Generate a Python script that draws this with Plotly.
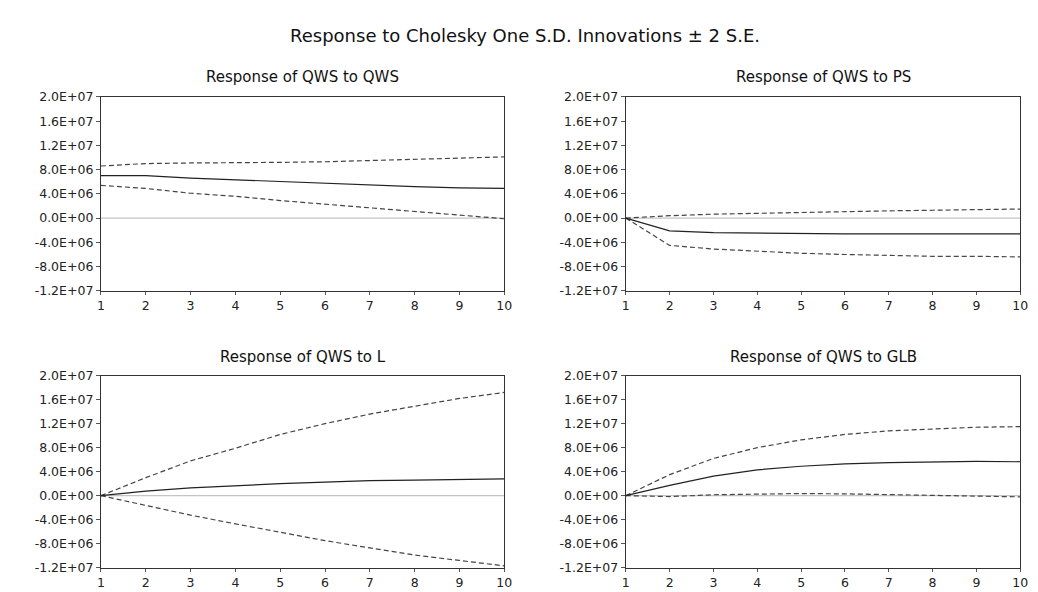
import plotly.graph_objects as go

periods = [1, 2, 3, 4, 5, 6, 7, 8, 9, 10]

qws_qws_resp = [7.0e6, 7.0e6, 6.6e6, 6.3e6, 6.0e6, 5.7e6, 5.5e6, 5.2e6, 5.0e6, 4.9e6]
qws_qws_upper = [8.6e6, 9.0e6, 9.1e6, 9.1e6, 9.2e6, 9.3e6, 9.5e6, 9.7e6, 9.9e6, 10.1e6]
qws_qws_lower = [5.4e6, 4.9e6, 4.1e6, 3.6e6, 2.9e6, 2.3e6, 1.6e6, 1.0e6, 0.5e6, -0.1e6]

qws_ps_resp = [0.0, -2.1e6, -2.4e6, -2.5e6, -2.5e6, -2.6e6, -2.6e6, -2.6e6, -2.6e6, -2.6e6]
qws_ps_upper = [0.0, 0.4e6, 0.65e6, 0.8e6, 1.0e6, 1.1e6, 1.2e6, 1.3e6, 1.4e6, 1.5e6]
qws_ps_lower = [0.0, -4.5e6, -5.1e6, -5.5e6, -5.8e6, -6.0e6, -6.2e6, -6.3e6, -6.3e6, -6.4e6]

qws_l_resp = [0.0, 0.75e6, 1.3e6, 1.7e6, 2.0e6, 2.25e6, 2.5e6, 2.6e6, 2.7e6, 2.8e6]
qws_l_upper = [0.0, 3.0e6, 5.8e6, 7.9e6, 10.2e6, 12.0e6, 13.6e6, 14.9e6, 16.2e6, 17.2e6]
qws_l_lower = [0.0, -1.65e6, -3.25e6, -4.7e6, -6.1e6, -7.5e6, -8.7e6, -9.9e6, -10.8e6, -11.7e6]

qws_glb_resp = [0.0, 1.7e6, 3.25e6, 4.3e6, 4.9e6, 5.3e6, 5.5e6, 5.65e6, 5.7e6, 5.65e6]
qws_glb_upper = [0.0, 3.5e6, 6.2e6, 8.0e6, 9.3e6, 10.2e6, 10.8e6, 11.1e6, 11.4e6, 11.5e6]
qws_glb_lower = [0.0, -0.15e6, 0.15e6, 0.3e6, 0.35e6, 0.3e6, 0.15e6, 0.05e6, -0.05e6, -0.2e6]

panel_titles = ["Response of QWS to QWS", "Response of QWS to PS",
                "Response of QWS to L", "Response of QWS to GLB"]
main_title = "Response to Cholesky One S.D. Innovations ± 2 S.E."

y_tickvals = [-1.2e7, -8.0e6, -4.0e6, 0.0, 4.0e6, 8.0e6, 1.2e7, 1.6e7, 2.0e7]
y_ticktext = ["-1.2E+07", "-8.0E+06", "-4.0E+06", "0.0E+00", "4.0E+06",
              "8.0E+06", "1.2E+07", "1.6E+07", "2.0E+07"]

panels = [
    (qws_qws_resp, qws_qws_upper, qws_qws_lower),
    (qws_ps_resp, qws_ps_upper, qws_ps_lower),
    (qws_l_resp, qws_l_upper, qws_l_lower),
    (qws_glb_resp, qws_glb_upper, qws_glb_lower),
]

W, H = 1038, 592
xdoms = [(90 / W, 498 / W), (621 / W, 1020 / W), (90 / W, 498 / W), (621 / W, 1020 / W)]
ydoms = [(1 - 282 / H, 1 - 83 / H), (1 - 282 / H, 1 - 83 / H),
         (1 - 566 / H, 1 - 369 / H), (1 - 566 / H, 1 - 369 / H)]
title_y = [1 - 63 / H, 1 - 63 / H, 1 - 350 / H, 1 - 350 / H]

FONT = "DejaVu Sans, Liberation Sans, Arial, sans-serif"

fig = go.Figure()
layout = dict(
    width=W, height=H, margin=dict(l=0, r=0, t=0, b=0),
    paper_bgcolor="white", plot_bgcolor="white", showlegend=False,
    font=dict(family=FONT, size=12, color="#222"),
)
annotations = []
for i, (resp, up, lo) in enumerate(panels):
    n = i + 1
    xa = "x" if n == 1 else f"x{n}"
    ya = "y" if n == 1 else f"y{n}"
    fig.add_trace(go.Scatter(x=[periods[0], periods[-1]], y=[0, 0], mode="lines",
                             line=dict(color="#c4c4c4", width=1.2), xaxis=xa, yaxis=ya,
                             hoverinfo="skip"))
    fig.add_trace(go.Scatter(x=periods, y=up, mode="lines",
                             line=dict(color="#444", width=1.2, dash="5px,3px"),
                             xaxis=xa, yaxis=ya))
    fig.add_trace(go.Scatter(x=periods, y=lo, mode="lines",
                             line=dict(color="#444", width=1.2, dash="5px,3px"),
                             xaxis=xa, yaxis=ya))
    fig.add_trace(go.Scatter(x=periods, y=resp, mode="lines",
                             line=dict(color="#222", width=1.2),
                             xaxis=xa, yaxis=ya))
    key = "" if n == 1 else str(n)
    layout[f"xaxis{key}"] = dict(
        domain=list(xdoms[i]), anchor=ya, range=[1, 10], tickvals=periods,
        showgrid=False, zeroline=False, showline=True, linecolor="#333", linewidth=1.2,
        mirror=True, ticks="outside", ticklen=3, tickcolor="#555",
        tickfont=dict(family=FONT, size=12.5, color="#222"), fixedrange=True,
    )
    layout[f"yaxis{key}"] = dict(
        domain=list(ydoms[i]), anchor=xa, range=[-1.2e7, 2.0e7],
        tickvals=y_tickvals, ticktext=y_ticktext,
        showgrid=False, zeroline=False, showline=True, linecolor="#333", linewidth=1.2,
        mirror=True, ticks="outside", ticklen=4, tickcolor="#555",
        tickfont=dict(family=FONT, size=12.5, color="#222"), fixedrange=True,
    )
    annotations.append(dict(
        text=panel_titles[i], xref="paper", yref="paper",
        x=(xdoms[i][0] + xdoms[i][1]) / 2, y=title_y[i],
        xanchor="center", yanchor="middle", showarrow=False,
        font=dict(family=FONT, size=15, color="#111"),
    ))

annotations.append(dict(
    text=main_title, xref="paper", yref="paper", x=519 / W, y=1 - 20 / H,
    xanchor="center", yanchor="middle", showarrow=False,
    font=dict(family=FONT, size=18, color="#111"),
))
layout["annotations"] = annotations
fig.update_layout(**layout)
fig.write_html("out.html")
